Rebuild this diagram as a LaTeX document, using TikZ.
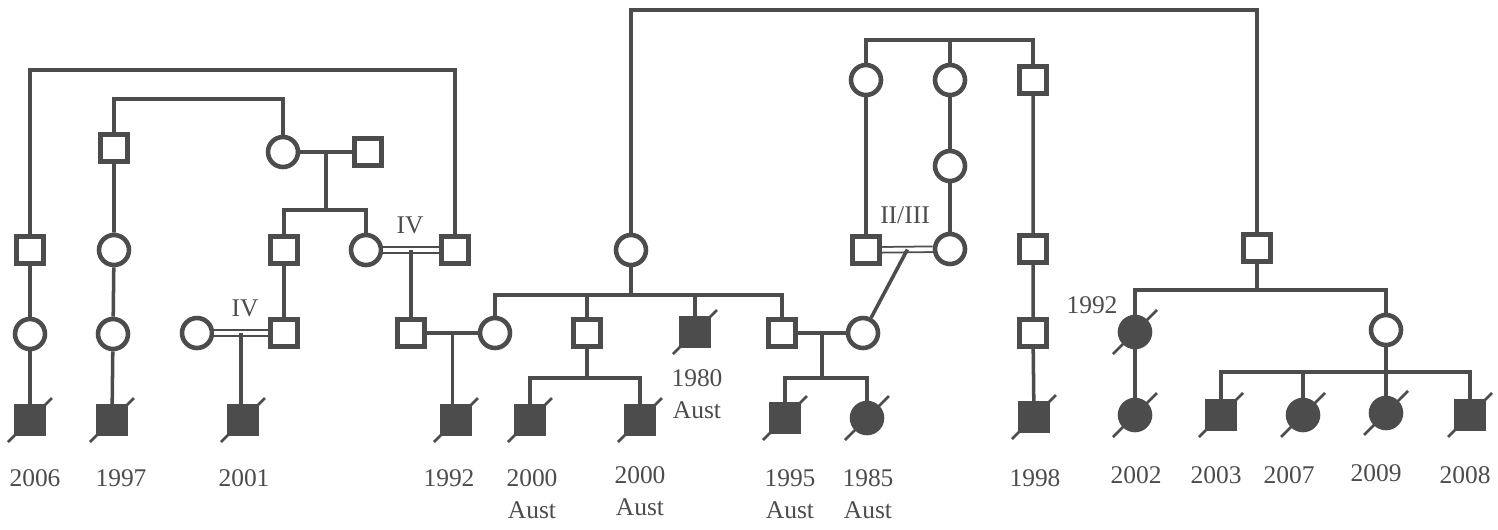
\documentclass[tikz,border=0pt]{standalone}
\usepackage{fontspec}
\setmainfont{Liberation Serif}
\usepackage{xcolor}
\usetikzlibrary{calc}
\definecolor{ink}{gray}{0.3}
\tikzset{
	ln/.style={draw=ink,line width=2pt},
	dbl/.style={draw=ink,line width=1pt,double=white,double distance=2.2pt},
	sq/.style={draw=ink,line width=2.6pt,minimum size=0.55cm,inner sep=0pt},
	ci/.style={sq,circle,minimum size=0.6cm},
	aff/.style={fill=ink},
	yr/.style={text=ink,font=\fontsize{14.5}{18.2}\selectfont,inner sep=0pt,align=center},
	slash/.style={draw=ink,line width=1.5pt}
}
\newcommand{\dead}[1]{\draw[slash] (#1.center) ++(-22,22) -- ++(44,-44);}

\begin{document}
\begin{tikzpicture}[x=0.02cm,y=-0.02cm]
			\useasboundingbox (0,0) rectangle (1498,529);
			\coordinate (topM) at (0,10);
			\coordinate (topS) at (0,40);
			\coordinate (topA) at (0,70);
			\coordinate (topB) at (0,99);
			\coordinate (sibC) at (0,210);
			\coordinate (sibV) at (0,290);
			\coordinate (sibM) at (0,295);
			\coordinate (sibW) at (0,372);
			\coordinate (sibN) at (0,378);
			\node[sq] (A1) at (30,250) {};
			\node[ci] (A2) at (30,334) {};
			\node[sq,aff] (A3) at (30,420) {};
			\node[sq] (B1) at (114,148) {};
			\node[ci] (B2) at (114,250) {};
			\node[ci] (B3) at (113,334) {};
			\node[sq,aff] (B4) at (112,420) {};
			\node[ci] (C1) at (283,152) {};
			\node[sq] (C2) at (368,152) {};
			\node[sq] (D1) at (284,250) {};
			\node[ci] (D2) at (366,250) {};
			\node[sq] (D3) at (455,250) {};
			\node[ci] (E1) at (197,333) {};
			\node[sq] (E2) at (284,333) {};
			\node[sq] (E3) at (411,333) {};
			\node[sq,aff] (E4) at (243,420) {};
			\node[sq,aff] (G1) at (456,420) {};
			\node[ci] (M0) at (631,250) {};
			\node[ci] (F1) at (495,333) {};
			\node[sq] (M1) at (587,333) {};
			\node[sq,aff] (M2) at (695,332) {};
			\node[sq] (M3) at (782,333) {};
			\node[ci] (P1) at (863,333) {};
			\node[sq,aff] (N1) at (530,420) {};
			\node[sq,aff] (N2) at (640,420) {};
			\node[sq,aff] (Q1) at (785,418) {};
			\node[ci,aff] (Q2) at (867,418) {};
			\node[ci] (S1) at (866,80) {};
			\node[ci] (S2) at (950,80) {};
			\node[sq] (S3) at (1033,80) {};
			\node[sq] (T1) at (866,250) {};
			\node[ci] (T2) at (950,166) {};
			\node[ci] (T3) at (950,249) {};
			\node[sq] (U1) at (1033,249) {};
			\node[sq] (U2) at (1033,333) {};
			\node[sq,aff] (U3) at (1034,417) {};
			\node[sq] (R0) at (1257,248) {};
			\node[ci,aff] (V1) at (1135,332) {};
			\node[ci] (V2) at (1386,330) {};
			\node[ci,aff] (W0) at (1135,415) {};
			\node[sq,aff] (W1) at (1221,415) {};
			\node[ci,aff] (W2) at (1303,415) {};
			\node[ci,aff] (W3) at (1386,413) {};
			\node[sq,aff] (W4) at (1470,415) {};
			\draw[ln] (A1) -- (A1|-topA) -- (D3|-topA) -- (D3);
			\draw[ln] (A1) -- (A2) -- (A3);
			\draw[ln] (B1) -- (B1|-topB) -- (C1|-topB) -- (C1);
			\draw[ln] (B1) -- (B2) -- (B3) -- (B4);
			\draw[ln] (C1) -- coordinate (mC) (C2);
			\draw[ln] (mC) -- (mC|-sibC);
			\draw[ln] (D1) -- (D1|-sibC) -- (D2|-sibC) -- (D2);
			\draw[ln] (D1) -- (E2);
			\draw[dbl] (D2) -- coordinate (mD) (D3);
			\draw[ln] (mD) -- (mD|-E3.north);
			\draw[dbl] (E1) -- coordinate (mE) (E2);
			\draw[ln] (mE) -- (mE|-E4.north);
			\draw[ln] (E3) -- coordinate (mF) (F1);
			\draw[ln] (mF) -- (mF|-G1.north);
			\draw[ln] (M0) -- (M0|-topM) -- (R0|-topM) -- (R0);
			\draw[ln] (M0) -- (M0|-sibM);
			\draw[ln] (F1) -- (F1|-sibM) -- (M3|-sibM) -- (M3);
			\draw[ln] (M1) -- (M1|-sibM);
			\draw[ln] (M2) -- (M2|-sibM);
			\draw[ln] (M1) -- (M1|-sibN);
			\draw[ln] (N1) -- (N1|-sibN) -- (N2|-sibN) -- (N2);
			\draw[ln] (M3) -- coordinate (mP) (P1);
			\draw[ln] (mP) -- (mP|-sibN);
			\draw[ln] (Q1) -- (Q1|-sibN) -- (Q2|-sibN) -- (Q2);
			\draw[ln] (S1) -- (S1|-topS) -- (S3|-topS) -- (S3);
			\draw[ln] (S2) -- (S2|-topS);
			\draw[ln] (S1) -- (T1);
			\draw[ln] (S2) -- (T2) -- (T3);
			\draw[ln] (S3) -- (U1) -- (U2) -- (U3);
			\draw[dbl] (T1) -- coordinate (mT) (T3);
			\draw[ln] (mT) -- (P1);
			\draw[ln] (R0) -- (R0|-sibV);
			\draw[ln] (V1) -- (V1|-sibV) -- (V2|-sibV) -- (V2);
			\draw[ln] (V1) -- (W0);
			\draw[ln] (V2) -- (V2|-sibW);
			\draw[ln] (W1) -- (W1|-sibW) -- (W4|-sibW) -- (W4);
			\draw[ln] (W2) -- (W2|-sibW);
			\draw[ln] (W3) -- (W3|-sibW);
			\foreach \n in {A3,B4,E4,G1,M2,N1,N2,Q1,Q2,U3,V1,W0,W1,W2,W3,W4} {\dead{\n}}
			\node[yr] (rIVa) at (410,225) {IV};
			\node[yr] (rIVb) at (245,308) {IV};
			\node[yr] (rII) at (905,215) {II/III};
			\node[yr] (y2006) at (35,478) {2006};
			\node[yr] (y1997) at (121,478) {1997};
			\node[yr] (y2001) at (244,478) {2001};
			\node[yr] (y1992a) at (449,478) {1992};
			\node[yr] (yN1) at (532,494) {2000\\Aust};
			\node[yr] (yN2) at (640,491) {2000\\Aust};
			\node[yr] (yM2) at (697,394) {1980\\Aust};
			\node[yr] (yQ1) at (790,494) {1995\\Aust};
			\node[yr] (yQ2) at (868,494) {1985\\Aust};
			\node[yr] (y1998) at (1035,478) {1998};
			\node[yr] (y1992b) at (1092,305) {1992};
			\node[yr] (y2002) at (1136,475) {2002};
			\node[yr] (y2003) at (1216,475) {2003};
			\node[yr] (y2007) at (1289,475) {2007};
			\node[yr] (y2009) at (1376,473) {2009};
			\node[yr] (y2008) at (1465,475) {2008};
		\end{tikzpicture}
\end{document}
